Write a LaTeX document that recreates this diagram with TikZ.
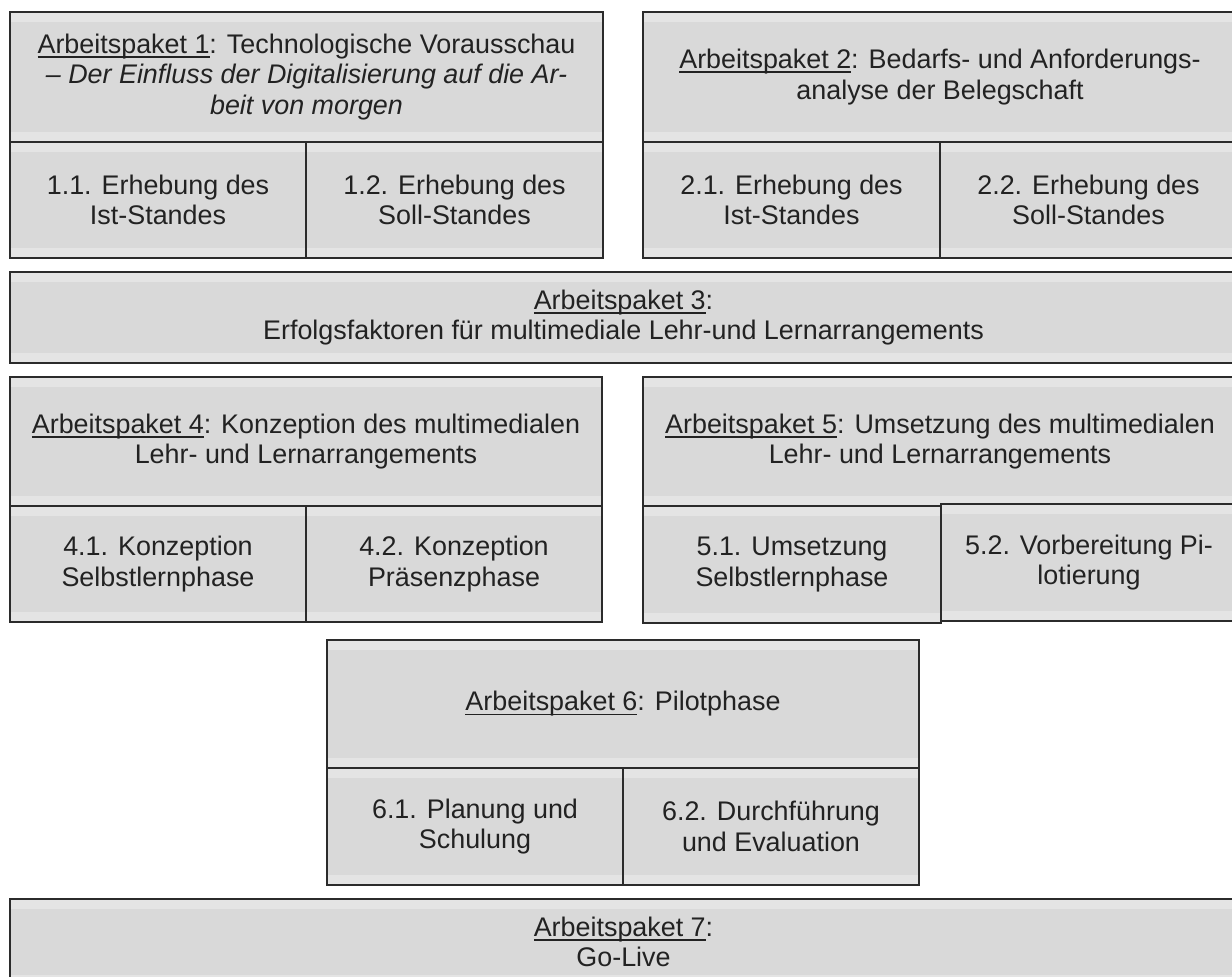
\documentclass[tikz,border=0pt]{standalone}
\usepackage{fontspec}
\setmainfont{Liberation Sans}

\definecolor{cellgray}{HTML}{D9D9D9}
\definecolor{bandgray}{HTML}{E4E4E4}
\definecolor{framegray}{HTML}{2B2B2B}
\definecolor{textgray}{HTML}{222222}

\newcommand{\ap}[1]{\leavevmode\setbox0\hbox{Arbeitspaket #1}%
  \rlap{\rule[-2.2pt]{\wd0}{0.9pt}}\box0}

\tikzset{
  cell/.style={draw=framegray, line width=1.1pt, fill=cellgray, inner sep=0pt,
    align=center, text=textgray, font=\fontsize{13.45}{15.3}\selectfont,
    path picture={
      \fill[bandgray] (path picture bounding box.north west)
        rectangle ([yshift=-5pt]path picture bounding box.north east);
      \fill[bandgray] (path picture bounding box.south west)
        rectangle ([yshift=5pt]path picture bounding box.south east);
    }},
  span/.style n args={4}{minimum width={(#3-#1)*0.5pt}, minimum height={(#4-#2)*0.5pt},
    at={({(#1+#3)/2},{(#2+#4)/2})}}
}

\begin{document}
\begin{tikzpicture}[x=0.5pt,y=-0.5pt]
\useasboundingbox (0,0) rectangle (1232,977);
\clip (0,0) rectangle (1232,977);

% Arbeitspaket 1
\node[cell, span={10}{12}{603}{142}] (ap1) {\ap{1}: Technologische Vorausschau\\
  \textit{– Der Einfluss der Digitalisierung auf die Ar-}\\ \textit{beit von morgen}};
\node[cell, span={10}{142}{306}{258}] (ap11) {1.1. Erhebung des\\Ist-Standes};
\node[cell, span={306}{142}{603}{258}] (ap12) {1.2. Erhebung des\\Soll-Standes};

% Arbeitspaket 2
\node[cell, span={643}{12}{1237}{142}] (ap2) {\ap{2}: Bedarfs- und Anforderungs-\\analyse der Belegschaft};
\node[cell, span={643}{142}{940}{258}] (ap21) {2.1. Erhebung des\\Ist-Standes};
\node[cell, span={940}{142}{1237}{258}] (ap22) {2.2. Erhebung des\\Soll-Standes};

% Arbeitspaket 3
\node[cell, span={10}{272}{1237}{363}] (ap3) {\ap{3}:\\Erfolgsfaktoren für multimediale Lehr-und Lernarrangements};

% Arbeitspaket 4
\node[cell, span={10}{377}{602}{506}] (ap4) {\ap{4}: Konzeption des multimedialen\\Lehr- und Lernarrangements};
\node[cell, span={10}{506}{306}{622}] (ap41) {4.1. Konzeption\\Selbstlernphase};
\node[cell, span={306}{506}{602}{622}] (ap42) {4.2. Konzeption\\Präsenzphase};

% Arbeitspaket 5
\node[cell, span={643}{377}{1237}{506}] (ap5) {\ap{5}: Umsetzung des multimedialen\\Lehr- und Lernarrangements};
\node[cell, span={643}{506}{941}{623}] (ap51) {5.1. Umsetzung\\Selbstlernphase};
\node[cell, span={941}{504}{1237}{621}] (ap52) {5.2. Vorbereitung Pi-\\lotierung};

% Arbeitspaket 6
\node[cell, span={327}{640}{919}{768}] (ap6) {\ap{6}: Pilotphase};
\node[cell, span={327}{768}{623}{885}] (ap61) {6.1. Planung und\\Schulung};
\node[cell, span={623}{768}{919}{885}] (ap62) {6.2. Durchführung\\und Evaluation};

% Arbeitspaket 7
\node[cell, span={10}{899}{1237}{985}] (ap7) {\ap{7}:\\Go-Live};
\end{tikzpicture}
\end{document}
